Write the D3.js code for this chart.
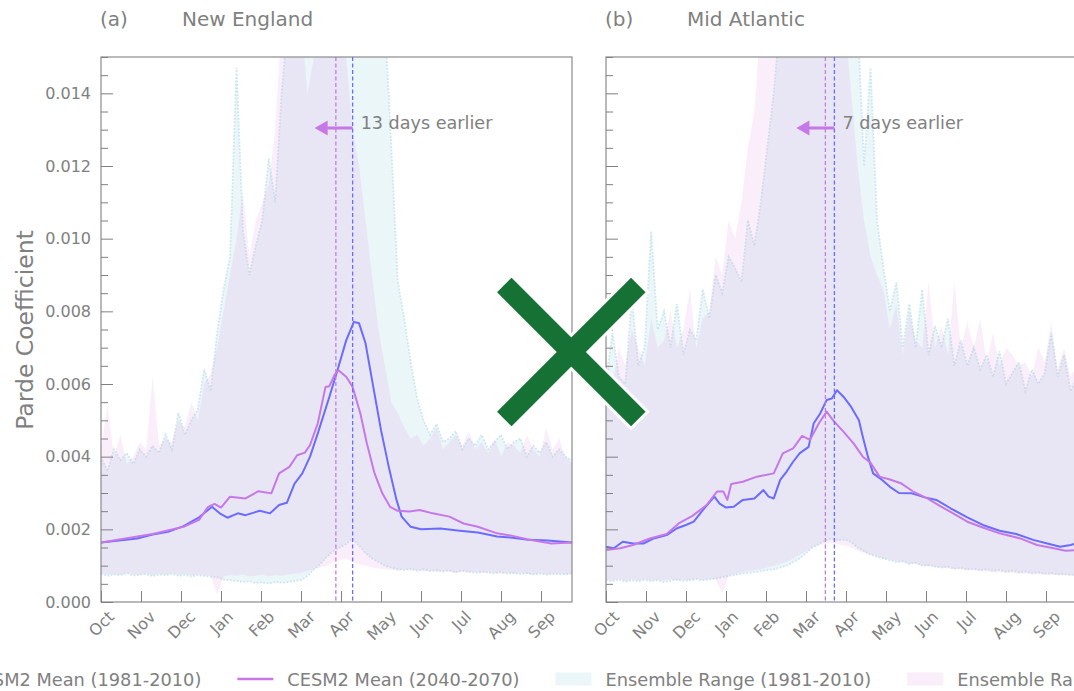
<!DOCTYPE html>
<html><head><meta charset="utf-8">
<script src="https://cdn.jsdelivr.net/npm/d3@7"></script>
<style>
html,body{margin:0;padding:0;background:#fff;overflow:hidden}
svg{display:block;font-family:"DejaVu Sans",sans-serif}
</style></head><body>
<svg id="chart" width="1074" height="691"></svg>
<script>
// Parde coefficient seasonal cycle, water-year days (day 0 = 1 Oct), values in units of 1e-3
const UNIT = 1e-3;
const ENSEMBLE_STEP = 5; // ensemble envelope sampled every 5 days

const monthLabels = ["Oct","Nov","Dec","Jan","Feb","Mar","Apr","May","Jun","Jul","Aug","Sep"];
const monthTickDays = [0,31,62,93,124,155,186,217,248,279,310,341];
const yMajorTicks = [0,0.002,0.004,0.006,0.008,0.010,0.012,0.014];
const yMinorTicks = [0.0005,0.001,0.0015,0.0025,0.003,0.0035,0.0045,0.005,0.0055,0.0065,0.007,0.0075,
                     0.0085,0.009,0.0095,0.0105,0.011,0.0115,0.0125,0.013,0.0135,0.0145,0.015];

// ---- New England ----
const neBaseDays = [0,14,28,40,52,64,76,86,92,98,106,112,123,131,138,144,150,156,162,168,177,184,190,196,200,205,211,217,223,229,233,240,248,263,278,292,307,319,331,346,365];
const neBaseVals = [1.64,1.69,1.75,1.86,1.93,2.09,2.33,2.62,2.44,2.32,2.44,2.39,2.51,2.44,2.67,2.73,3.26,3.54,4.0,4.64,5.65,6.47,7.2,7.71,7.67,7.12,5.92,4.73,3.72,2.81,2.35,2.07,2.0,2.02,1.96,1.91,1.8,1.77,1.71,1.69,1.64];
const neFutDays = [0,40,64,76,83,88,93,100,112,122,132,138,146,152,158,162,168,174,177,181,184,190,195,201,206,212,218,224,230,239,247,257,270,281,292,307,319,331,349,365];
const neFutVals = [1.64,1.87,2.07,2.26,2.62,2.70,2.60,2.90,2.85,3.05,2.99,3.54,3.72,4.04,4.11,4.32,4.92,5.92,5.94,6.25,6.38,6.20,5.92,5.19,4.37,3.54,2.99,2.62,2.51,2.49,2.53,2.44,2.35,2.16,2.07,1.89,1.82,1.72,1.61,1.64];
const neBaseHi = [4.0,3.6,4.2,3.9,4.1,3.8,4.2,4.0,4.3,4.1,4.6,4.2,5.2,4.6,5.0,5.3,6.4,5.8,7.4,8.6,9.5,14.7,10.2,9.0,9.8,10.5,12.2,11.0,14.0,16,16,16,16,16,16,16,16,16,16,16,16,16,16,16,16,12.5,8.8,7.8,6.6,5.6,5.0,4.6,4.9,4.4,4.5,4.7,4.2,4.5,4.3,4.6,4.2,4.4,4.6,4.2,4.4,4.5,4.0,4.3,4.1,4.4,4.0,4.2,4.0,3.9];
const neBaseLo = [0.78,0.72,0.76,0.74,0.8,0.73,0.75,0.77,0.71,0.76,0.74,0.78,0.72,0.75,0.7,0.74,0.72,0.7,
                  0.68,0.62,0.6,0.58,0.55,0.57,0.52,0.55,0.5,0.56,0.53,0.55,0.58,0.6,0.72,0.9,
                  1.05,1.25,1.4,1.5,1.6,1.75,1.55,1.35,1.2,1.1,
                  1.0,0.95,0.9,0.88,0.92,0.86,0.9,0.85,0.88,0.84,0.87,0.82,0.86,0.83,0.8,0.84,0.81,0.79,0.83,0.78,0.8,0.77,0.8,0.76,0.78,0.75,0.79,0.76,0.77,0.78];
const neFutHi = [4.2,5.4,4.0,4.6,3.8,4.0,4.4,4.2,6.2,4.3,4.5,4.4,5.0,4.8,5.5,5.0,6.0,6.3,7.0,8.0,9.0,10.0,11.3,9.5,10.5,11.0,11.5,13.0,16,16,16,16,14.0,15,16,16,16,16,15,13,12,10.5,9,7.5,6.5,5.5,5.2,4.8,4.5,4.6,4.3,4.5,4.8,4.2,4.4,4.6,4.3,4.7,4.2,4.4,4.1,4.5,4.0,4.4,4.3,4.1,4.6,4.2,4.0,4.8,4.2,4.5,4.0,3.8];
const neFutLo = [0.8,0.76,0.78,0.74,0.8,0.77,0.75,0.79,0.74,0.78,0.76,0.8,0.75,0.78,0.73,0.76,0.74,0.72,
                 0.2,
                 0.7,0.74,0.72,0.76,0.7,0.73,0.75,0.7,0.74,0.72,0.76,0.78,0.8,0.85,0.9,
                 0.95,1.0,1.1,1.15,1.2,1.1,1.05,1.0,0.95,0.92,
                 0.9,0.88,0.86,0.9,0.85,0.88,0.84,0.86,0.82,0.85,0.83,0.8,0.84,0.81,0.83,0.79,0.82,0.8,0.78,0.81,0.77,0.8,0.78,0.76,0.79,0.77,0.75,0.78,0.76,0.78];
const nePeakBase = 195, nePeakFut = 182;

// ---- Mid Atlantic ----
const maBaseDays = [0,6,13,21,29,37,47,55,62,68,75,84,88,93,99,106,115,122,126,130,135,140,145,150,157,161,166,171,175,179,184,190,196,199,203,207,214,220,227,237,247,256,267,280,292,305,318,331,342,352,360,365];
const maBaseVals = [1.52,1.48,1.66,1.61,1.61,1.75,1.84,2.03,2.12,2.21,2.53,2.90,2.71,2.60,2.62,2.81,2.85,3.08,2.90,2.85,3.36,3.59,3.86,4.09,4.27,4.92,5.19,5.56,5.60,5.83,5.65,5.37,5.00,4.55,4.00,3.54,3.36,3.17,3.00,2.99,2.88,2.81,2.58,2.33,2.12,1.96,1.87,1.71,1.61,1.52,1.57,1.62];
const maFutDays = [0,11,21,34,47,57,67,78,86,91,94,97,106,117,130,137,145,152,158,165,171,176,184,192,199,205,212,220,229,238,249,259,269,280,292,305,321,334,347,356,365];
const maFutVals = [1.43,1.48,1.57,1.75,1.87,2.18,2.37,2.67,3.04,3.04,2.81,3.25,3.31,3.45,3.54,4.09,4.23,4.57,4.46,4.92,5.24,5.00,4.69,4.36,4.00,3.83,3.45,3.37,3.26,3.04,2.85,2.64,2.44,2.21,2.05,1.89,1.75,1.57,1.48,1.41,1.43];
const maBaseHi = [6.0,7.4,6.2,6.0,8.4,6.5,7.0,10.2,7.5,8.0,7.0,8.2,6.8,7.5,7.2,8.6,7.8,9.0,8.5,9.5,9.2,8.8,10.5,9.8,11.0,12.5,14.0,
                  16,16,16,16,16,16,16,16,16,16,16,16,16,
                  12,14.7,10.5,9.2,8.0,8.8,7.0,8.2,7.0,8.6,6.8,7.6,7.0,7.8,6.5,7.2,6.5,7.0,6.4,6.8,6.2,6.9,6.0,6.3,6.6,5.8,6.4,6.0,6.3,7.4,6.2,6.8,5.8,6.2];
const maBaseLo = [0.6,0.58,0.62,0.56,0.6,0.57,0.61,0.58,0.6,0.55,0.59,0.62,0.58,0.6,0.63,0.6,0.62,0.65,
                  0.68,0.72,0.75,0.78,0.8,0.82,0.85,0.88,0.9,0.95,1.0,1.1,
                  1.2,1.35,1.5,1.6,1.7,1.75,1.7,1.72,1.65,1.5,1.4,1.3,
                  1.25,1.2,1.15,1.1,1.12,1.05,1.08,1.0,1.02,0.98,0.95,0.97,0.92,0.94,0.9,0.92,0.88,0.9,0.86,0.88,0.84,0.86,0.82,0.84,0.8,0.82,0.78,0.8,0.76,0.78,0.75,0.76];
const maFutHi = [6.8,6.0,7.0,6.5,7.5,7.0,6.5,7.8,7.0,7.2,8.0,7.0,7.5,8.6,7.0,7.8,8.0,9.5,9.0,10.5,10.0,11.0,12.5,13.5,
                 16,16,16,16,16,16,16,16,16,16,16,16,16,16,
                 14,12,10.5,9.5,9.0,8.6,7.5,8.2,6.8,8.0,7.2,7.0,8.8,7.0,7.6,6.8,8.8,7.0,7.7,7.0,7.8,6.6,7.4,6.5,7.0,6.8,6.5,6.6,6.2,7.0,6.6,7.7,6.4,7.0,6.2,6.5];
const maFutLo = [0.62,0.6,0.64,0.58,0.62,0.6,0.63,0.59,0.61,0.6,0.63,0.58,0.62,0.6,0.64,0.61,0.63,0.62,
                 0.25,
                 0.7,0.78,0.82,0.85,0.88,0.9,0.95,1.0,1.05,1.1,1.2,
                 1.3,1.4,1.5,1.55,1.6,1.62,1.58,1.55,1.5,1.42,1.35,1.3,
                 1.25,1.2,1.18,1.12,1.1,1.05,1.06,1.0,0.98,0.96,0.94,0.92,0.9,0.9,0.88,0.86,0.85,0.84,0.82,0.82,0.8,0.8,0.78,0.78,0.76,0.76,0.75,0.74,0.74,0.73,0.72,0.72];
const maPeakBase = 177, maPeakFut = 170;

const panelTags = ["(a)","(b)"];
const panelNames = ["New England","Mid Atlantic"];
const legendLabels = ["CESM2 Mean (1981-2010)","CESM2 Mean (2040-2070)","Ensemble Range (1981-2010)","Ensemble Range (2040-2070)"];

// ---- styling ----
const BLUE = "#6b6bff", PURPLE = "#c778e8";
const BLUE_FILL = "rgb(173,216,230)", BLUE_FILL_OP = 0.24;
const PINK_FILL = "rgb(221,160,221)", PINK_FILL_OP = 0.18;
const GREY = "#808080";
const FONT = "DejaVu Sans";

const panels = [
  {base:[neBaseDays,neBaseVals], fut:[neFutDays,neFutVals], baseRange:[neBaseLo,neBaseHi], futRange:[neFutLo,neFutHi], peaks:[nePeakBase,nePeakFut]},
  {base:[maBaseDays,maBaseVals], fut:[maFutDays,maFutVals], baseRange:[maBaseLo,maBaseHi], futRange:[maFutLo,maFutHi], peaks:[maPeakBase,maPeakFut]}
];

const svg = d3.select("#chart");
const TOP = 57, BOTTOM = 602;
const panelSpans = [[101,572],[606,1077]];
const y = d3.scaleLinear().domain([0,0.015]).range([BOTTOM, TOP]);
const defs = svg.append("defs");

panels.forEach((p, i) => {
  const [x0, x1] = panelSpans[i];
  const x = d3.scaleLinear().domain([0,365]).range([x0, x1]);
  const g = svg.append("g");

  defs.append("clipPath").attr("id","clip"+i)
    .append("rect").attr("x",x0).attr("y",TOP).attr("width",x1-x0).attr("height",BOTTOM-TOP);
  const plot = g.append("g").attr("clip-path",`url(#clip${i})`);

  const envelope = (lo, hi) => lo.map((v, j) => ({d: j*ENSEMBLE_STEP, lo: v*UNIT, hi: hi[j]*UNIT}));
  const area = d3.area().x(e => x(e.d)).y0(e => y(e.lo)).y1(e => y(e.hi));
  const edgeHi = d3.line().x(e => x(e.d)).y(e => y(e.hi));
  const edgeLo = d3.line().x(e => x(e.d)).y(e => y(e.lo));

  const baseEnv = envelope(p.baseRange[0], p.baseRange[1]);
  const futEnv = envelope(p.futRange[0], p.futRange[1]);

  // historical envelope with a dotted outline, future envelope laid over it
  plot.append("path").attr("d", area(baseEnv)).attr("fill", BLUE_FILL).attr("fill-opacity", BLUE_FILL_OP);
  [edgeHi, edgeLo].forEach(fn => plot.append("path").attr("d", fn(baseEnv))
    .attr("fill","none").attr("stroke","#c6e4ec").attr("stroke-width",1.8)
    .attr("stroke-dasharray","1.8 1.6").attr("opacity",0.9));
  plot.append("path").attr("d", area(futEnv)).attr("fill", PINK_FILL).attr("fill-opacity", PINK_FILL_OP);

  const mean = ([days, vals]) => days.map((d, j) => ({d, v: vals[j]*UNIT}));
  const line = d3.line().x(e => x(e.d)).y(e => y(e.v));
  plot.append("path").attr("d", line(mean(p.base))).attr("fill","none").attr("stroke",BLUE).attr("stroke-width",2).attr("stroke-linejoin","round");
  plot.append("path").attr("d", line(mean(p.fut))).attr("fill","none").attr("stroke",PURPLE).attr("stroke-width",2).attr("stroke-linejoin","round");

  // peak-timing markers
  const [peakBase, peakFut] = p.peaks;
  [[peakFut, PURPLE],[peakBase, BLUE]].forEach(([d, c]) => {
    plot.append("line").attr("x1",x(d)).attr("x2",x(d)).attr("y1",TOP).attr("y2",BOTTOM)
      .attr("stroke",c).attr("stroke-width",1.3).attr("stroke-dasharray","4 2.5");
  });

  // arrow and label for the shift in peak timing
  const ax = x(peakBase), ay = 128, tip = ax - 38, headLen = 13, headHalf = 7.5;
  g.append("line").attr("x1",ax).attr("x2",tip+headLen-1).attr("y1",ay).attr("y2",ay)
    .attr("stroke",PURPLE).attr("stroke-width",3);
  g.append("path").attr("d",`M${tip},${ay}L${tip+headLen},${ay-headHalf}L${tip+headLen},${ay+headHalf}Z`).attr("fill",PURPLE);
  g.append("text").attr("x",ax+8).attr("y",129).attr("fill",GREY)
    .attr("font-family",FONT).attr("font-size",17.6)
    .text(`${peakBase - peakFut} days earlier`);

  // axes
  const yMajor = d3.axisLeft(y).tickValues(yMajorTicks).tickSize(-12).tickPadding(10)
    .tickFormat(i === 0 ? d3.format(".3f") : () => "");
  const yMinor = d3.axisLeft(y).tickValues(yMinorTicks).tickSize(-7).tickFormat(() => "");
  [yMajor, yMinor].forEach(ax => {
    const ga = g.append("g").attr("transform",`translate(${x0},0)`).call(ax);
    ga.select(".domain").remove();
    ga.attr("color",GREY).attr("font-family",FONT).attr("font-size",16);
  });

  const xAxis = d3.axisBottom(x).tickValues(monthTickDays).tickSize(-11)
    .tickFormat((d, k) => monthLabels[k]);
  const gx = g.append("g").attr("transform",`translate(0,${BOTTOM})`).call(xAxis);
  gx.select(".domain").remove();
  gx.attr("color",GREY).attr("font-family",FONT).attr("font-size",16);
  gx.selectAll(".tick text").each(function() {
    const t = d3.select(this);
    const w = this.getComputedTextLength();
    const cy = 7 + (w + 14) * 0.3536;
    t.attr("y",null).attr("dy",null).attr("text-anchor","middle")
     .attr("dominant-baseline","central")
     .attr("transform",`translate(0,${cy}) rotate(-45)`);
  });

  // frame
  g.append("rect").attr("x",x0).attr("y",TOP).attr("width",x1-x0).attr("height",BOTTOM-TOP)
    .attr("fill","none").attr("stroke",GREY).attr("stroke-width",1.1);

  // titles
  g.append("text").attr("x",x0-1).attr("y",26).attr("fill",GREY).attr("font-family",FONT).attr("font-size",20).text(panelTags[i]);
  g.append("text").attr("x",x0+81).attr("y",26).attr("fill",GREY).attr("font-family",FONT).attr("font-size",20).text(panelNames[i]);
});

// y label
svg.append("text").attr("transform","translate(33,330) rotate(-90)").attr("text-anchor","middle")
  .attr("fill",GREY).attr("font-family",FONT).attr("font-size",23.5).text("Parde Coefficient");

// legend, centred below the panels
const LEG_FS = 17.8, HANDLE = 36, PAD = 14, COLSP = 36, LEG_Y = 679, LEG_CX = 571;
const legend = svg.append("g").attr("font-family",FONT).attr("font-size",LEG_FS);
const legendStyle = [
  {kind:"line", color:BLUE},
  {kind:"line", color:PURPLE},
  {kind:"patch", color:BLUE_FILL, op:BLUE_FILL_OP},
  {kind:"patch", color:PINK_FILL, op:PINK_FILL_OP}
];
const widths = legendLabels.map(s => {
  const t = legend.append("text").text(s);
  const w = t.node().getComputedTextLength(); t.remove(); return w;
});
const total = d3.sum(widths) + legendLabels.length*(HANDLE+PAD) + (legendLabels.length-1)*COLSP;
let cx = LEG_CX - total/2;
legendLabels.forEach((s, k) => {
  const st = legendStyle[k];
  if (st.kind === "line") {
    legend.append("line").attr("x1",cx).attr("x2",cx+HANDLE).attr("y1",LEG_Y).attr("y2",LEG_Y)
      .attr("stroke",st.color).attr("stroke-width",2.5);
  } else {
    legend.append("rect").attr("x",cx).attr("y",LEG_Y-6.5).attr("width",HANDLE).attr("height",13)
      .attr("fill",st.color).attr("fill-opacity",st.op);
  }
  legend.append("text").attr("x",cx+HANDLE+PAD).attr("y",LEG_Y).attr("dominant-baseline","central")
    .attr("fill",GREY).text(s);
  cx += HANDLE + PAD + widths[k] + COLSP;
});

// large cross mark over the panel gap
const cross = svg.append("g");
const CX = 571.3, CY = 352, ARM = 67, HALO = 3;
const arms = [[-1,-1,1,1],[1,-1,-1,1]];
arms.forEach(([a,b,c,d]) => {
  const e = HALO/Math.SQRT2;
  cross.append("line").attr("x1",CX+a*(ARM+e)).attr("y1",CY+b*(ARM+e)).attr("x2",CX+c*(ARM+e)).attr("y2",CY+d*(ARM+e))
    .attr("stroke","#fff").attr("stroke-width",20.5+2*HALO);
});
arms.forEach(([a,b,c,d]) => {
  cross.append("line").attr("x1",CX+a*ARM).attr("y1",CY+b*ARM).attr("x2",CX+c*ARM).attr("y2",CY+d*ARM)
    .attr("stroke","#157134").attr("stroke-width",20.5);
});
</script></body></html>
